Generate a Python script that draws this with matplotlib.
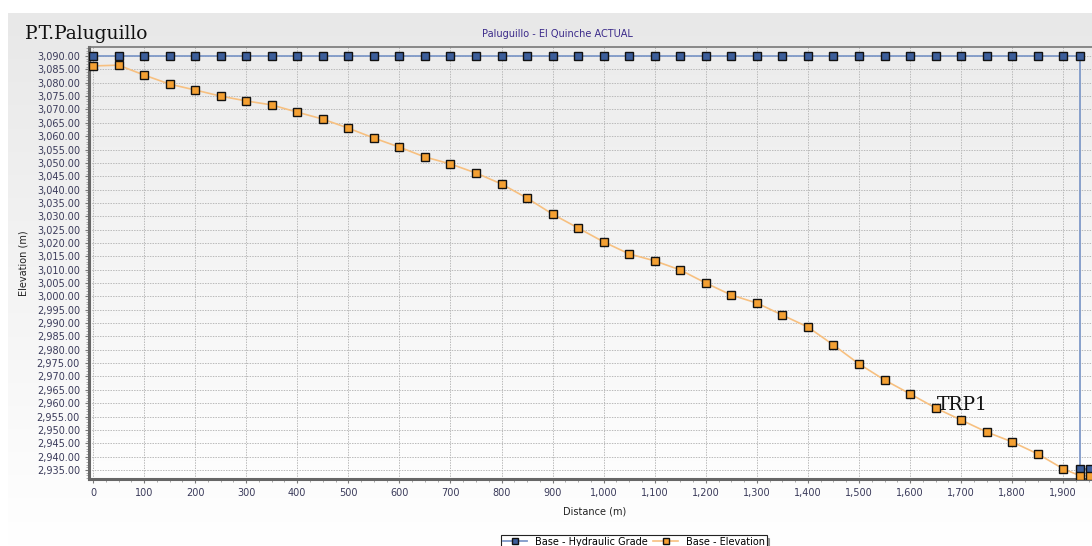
import numpy as np
import matplotlib
matplotlib.use("Agg")
import matplotlib.pyplot as plt
from matplotlib.ticker import MultipleLocator, FuncFormatter

# Perfil Paluguillo - El Quinche
distancia = [0, 50, 100, 150, 200, 250, 300, 350, 400, 450, 500, 550, 600, 650,
             700, 750, 800, 850, 900, 950, 1000, 1050, 1100, 1150, 1200, 1250,
             1300, 1350, 1400, 1450, 1500, 1550, 1600, 1650, 1700, 1750, 1800,
             1850, 1900, 1933, 1953]
elevacion = [3086.3, 3086.6, 3082.9, 3079.5, 3077.3, 3075.0, 3073.2, 3071.7,
             3069.0, 3066.4, 3063.0, 3059.3, 3055.9, 3052.2, 3049.6, 3046.2,
             3042.1, 3036.8, 3030.8, 3025.6, 3020.4, 3015.9, 3013.3, 3009.9,
             3005.0, 3000.5, 2997.5, 2993.0, 2988.5, 2981.8, 2974.7, 2968.7,
             2963.5, 2958.2, 2953.7, 2949.2, 2945.5, 2941.0, 2935.4, 2932.8,
             2932.8]

# Linea de gradiente hidraulico (cae en el tanque al final)
dist_hgl = distancia[:-2] + [1933, 1933, 1953]
hgl = [3090.0] * (len(distancia) - 2) + [3090.0, 2935.2, 2935.2]

W, H = 1092, 546
fig = plt.figure(figsize=(W / 100, H / 100), dpi=100)
fig.patch.set_facecolor("white")

# fondo gris con degradado
bg = fig.add_axes([8 / W, 0, 1 - 8 / W, 1 - 13 / H], zorder=-10)
grad = np.linspace(0.91, 1.0, 256).reshape(-1, 1)
bg.imshow(np.dstack([grad, grad, grad]), aspect="auto", extent=[0, 1, 0, 1],
          origin="upper")
bg.axis("off")

ax = fig.add_axes([89 / W, 67 / H, (1100 - 89) / W, (479 - 47) / H])
ax.set_xlim(-7.8, 1972)
ax.set_ylim(2931.6, 3093.4)

# degradado del area de grafico
pgrad = np.linspace(0.925, 0.995, 256).reshape(-1, 1)
ax.imshow(np.dstack([pgrad, pgrad, pgrad]), aspect="auto",
          extent=[-7.8, 1972, 2931.6, 3093.4], origin="upper", zorder=0)

ax.plot(dist_hgl, hgl, color="#7f99c8", linewidth=1.3, marker="s",
        markersize=5.8, markerfacecolor="#3c5e9a", markeredgecolor="#111111",
        markeredgewidth=1.0, zorder=3, label="Base - Hydraulic Grade")
ax.plot(distancia, elevacion, color="#f7c080", linewidth=1.2, marker="s",
        markersize=5.8, markerfacecolor="#f4a032", markeredgecolor="#111111",
        markeredgewidth=1.0, zorder=4, label="Base - Elevation")

ax.xaxis.set_major_locator(MultipleLocator(100))
ax.xaxis.set_minor_locator(MultipleLocator(25))
ax.yaxis.set_major_locator(MultipleLocator(5))
ax.yaxis.set_minor_locator(MultipleLocator(1))
ax.xaxis.set_major_formatter(FuncFormatter(lambda v, p: f"{v:,.0f}"))
ax.yaxis.set_major_formatter(FuncFormatter(lambda v, p: f"{v:,.2f}"))

tick_color = "#3a3a5a"
ax.tick_params(axis="both", which="major", labelsize=7, colors="#777777",
               labelcolor=tick_color, length=3, width=0.8)
ax.tick_params(axis="both", which="minor", colors="#999999", length=2, width=0.6)
ax.grid(True, which="major", color="#bababa", linestyle=(0, (1.5, 1.2)),
        linewidth=0.7, zorder=1)
ax.set_axisbelow(True)

for s in ["left", "bottom"]:
    ax.spines[s].set_color("#666666")
    ax.spines[s].set_linewidth(2.2)
ax.spines["top"].set_color("#777777")
ax.spines["top"].set_linewidth(1.2)
ax.spines["right"].set_visible(False)

ax.set_xlabel("Distance (m)", fontsize=7, color="#222222", labelpad=6)
ax.set_ylabel("Elevation (m)", fontsize=7, color="#222222", labelpad=6)

fig.text(557 / W, 1 - 34 / H, "Paluguillo - El Quinche ACTUAL", fontsize=7,
         color="#3b2a8a", ha="center", va="center")
fig.text(25 / W, 1 - 34 / H, "P.T.Paluguillo", fontsize=13.5,
         family="DejaVu Serif", color="#111111", ha="left", va="center")
ax.text(1652, 2959.5, "TRP1", fontsize=13.5, family="DejaVu Serif",
        color="#111111", ha="left", va="center", zorder=6)

leg = fig.legend(loc="upper left", bbox_to_anchor=(496 / W, 1 - 530 / H),
                 ncol=2, fontsize=7, frameon=True, fancybox=False,
                 shadow=True, edgecolor="#222222", columnspacing=0.6,
                 handlelength=2.5, handletextpad=0.8, borderpad=0.2)
leg.get_frame().set_linewidth(0.8)
for h in leg.legend_handles:
    h.set_markersize(5)

fig.savefig("out.png", dpi=100)
